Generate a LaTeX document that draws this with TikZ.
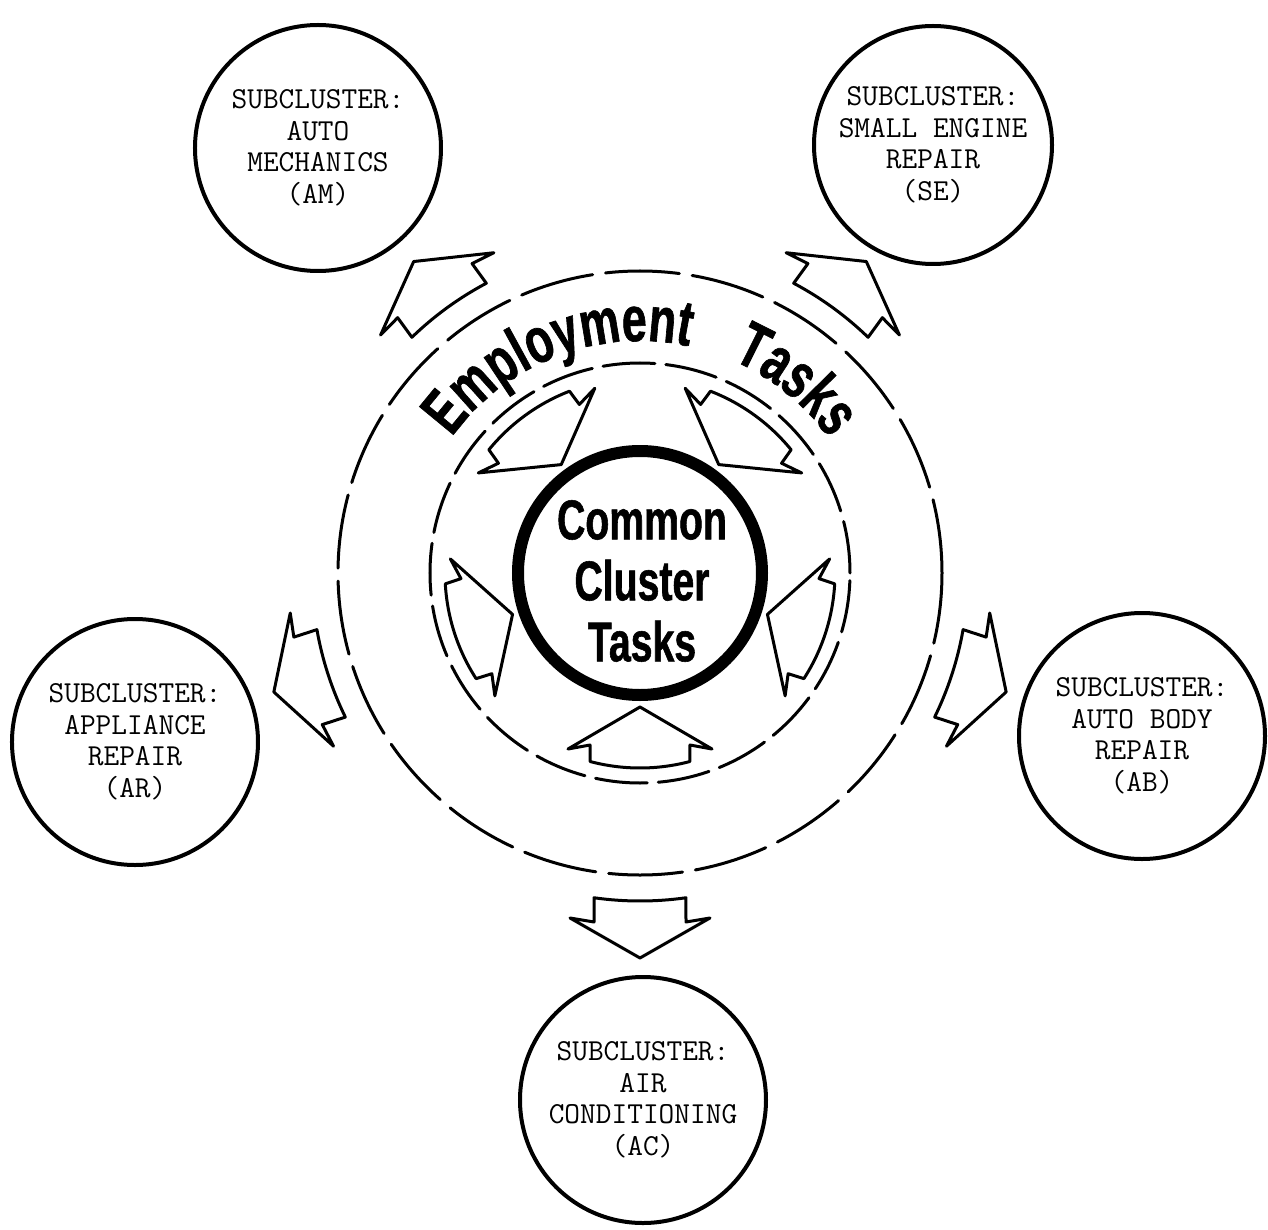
\documentclass[tikz,border=0pt]{standalone}
\usepackage{fontspec}
\usepackage{tikz}
\usetikzlibrary{decorations.text}
\newfontfamily\condfont{Liberation Sans}[FakeStretch=0.7, FakeBold=1]
\tikzset{
  subcluster/.style={circle, draw, line width=4pt, minimum size=246pt,
    inner sep=0pt, align=center,
    font=\ttfamily\addfontfeatures{FakeBold=1.2}\fontsize{30.5}{31.5}\selectfont},
  dashring/.style={line width=3pt, line cap=round},
  blockarrow/.style={line width=3pt, line join=round, fill=white},
}

\begin{document}
\begin{tikzpicture}[x=1pt, y=1pt]
  \useasboundingbox (-640,-656) rectangle (628,573);
  % Dashed rings
  \draw[dashring, dash pattern=on 74pt off 13pt] (0,0) circle (302pt);
  \draw[dashring, dash pattern=on 52pt off 11pt] (0,0) circle (210pt);
  % Block arrows, out to the subclusters and in to the core
  \foreach \a in {54,126,198,270,342}{
    \draw[blockarrow, rotate=\a] (-8.06:328pt)
      arc[start angle=-8.06, end angle=8.06, radius=328pt]
      -- (349,46) -- (345,70) -- (385,0) -- (345,-70) -- (349,-46) -- cycle;
    \draw[blockarrow, rotate=\a] (14.8:195pt)
      arc[start angle=14.8, end angle=-14.8, radius=195pt]
      -- (172,-50) -- (176,-72) -- (134,0) -- (176,72) -- (172,50) -- cycle;
  }
  % Core
  \node[circle, draw, line width=12pt, minimum size=244pt, inner sep=0pt]
    (core) at (0,0) {};
  \node[align=center, font=\condfont\bfseries\fontsize{56}{61}\selectfont]
    (coretext) at (2,-8) {Common\\Cluster\\Tasks};
  % Ring label
  \path[decorate, decoration={text along path, text align=center,
      text={|\condfont\bfseries\fontsize{64}{70}\selectfont|Employment}}]
    (146:232pt) arc[start angle=146, end angle=76, radius=232pt];
  \path[decorate, decoration={text along path, text align=center,
      text={|\condfont\bfseries\fontsize{64}{70}\selectfont|Tasks}}]
    (70:232pt) arc[start angle=70, end angle=32, radius=232pt];
  % Subclusters
  \node[subcluster] (am) at (-322,425) {SUBCLUSTER:\\AUTO\\MECHANICS\\(AM)};
  \node[subcluster, minimum size=238pt] (se) at (293,428)
    {SUBCLUSTER:\\SMALL ENGINE\\REPAIR\\(SE)};
  \node[subcluster] (ar) at (-505,-169) {SUBCLUSTER:\\APPLIANCE\\REPAIR\\(AR)};
  \node[subcluster] (ab) at (502,-163) {SUBCLUSTER:\\AUTO BODY\\REPAIR\\(AB)};
  \node[subcluster] (ac) at (3,-527) {SUBCLUSTER:\\AIR\\CONDITIONING\\(AC)};
\end{tikzpicture}
\end{document}
